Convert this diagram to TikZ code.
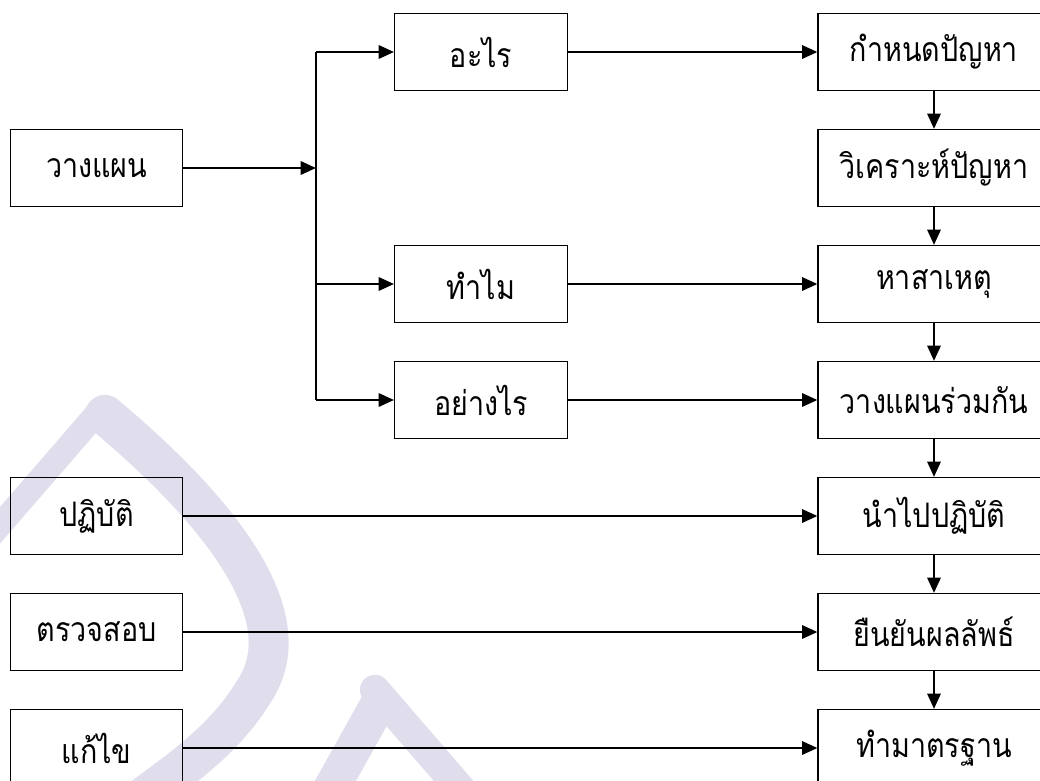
\documentclass[tikz,border=0pt]{standalone}
\usepackage{fontspec}
\newfontfamily\thaifont[Script=Thai, FakeStretch=0.85]{Loma}
\usepackage{tikz}
\usetikzlibrary{arrows, arrows.meta, positioning, calc}
\definecolor{wmark}{RGB}{224,221,237}
\tikzstyle{sbox} = [rectangle, minimum width=4.3cm, minimum height=1.925cm, inner sep=0pt, text centered, draw=black, line width=1pt, font=\thaifont\fontsize{24}{28}\selectfont]
\tikzstyle{mbox} = [sbox, minimum width=4.325cm]
\tikzstyle{rbox} = [sbox, minimum width=5.8cm]
\tikzstyle{arrow} = [line width=0.9pt, -{Triangle[length=0.38cm, width=0.34cm]}]
\tikzstyle{line} = [line width=0.9pt]

\begin{document}
\begin{tikzpicture}[node distance=2.9cm]
\useasboundingbox (0,0) rectangle (26,-19.5);
\clip (0,0) rectangle (26,-19.5);
% watermark in the background
\begin{scope}[x=0.025cm, y=-0.025cm, wmark, line cap=round]
\draw [line width=0.6cm] (100,410) -- (-30,560);
\draw [line width=1cm] (105,415) .. controls (230,520) and (300,620) .. (255,690) .. controls (225,740) and (180,770) .. (140,800);
\draw [line width=0.75cm] (375,690) -- (470,800);
\draw [line width=0.9cm] (378,705) -- (325,800);
\end{scope}
% right column
\node (r1) [rbox] at (23.35,-1.3) {กำหนดปัญหา};
\node (r2) [rbox, below of = r1] {วิเคราะห์ปัญหา};
\node (r3) [rbox, below of = r2] {หาสาเหตุ};
\node (r4) [rbox, below of = r3] {วางแผนร่วมกัน};
\node (r5) [rbox, below of = r4] {นำไปปฏิบัติ};
\node (r6) [rbox, below of = r5] {ยืนยันผลลัพธ์};
\node (r7) [rbox, below of = r6] {ทำมาตรฐาน};
% middle column
\node (m1) [mbox, left = 6.225cm of r1] {อะไร};
\node (m2) [mbox, left = 6.225cm of r3] {ทำไม};
\node (m3) [mbox, left = 6.225cm of r4] {อย่างไร};
% left column
\node (s1) [sbox, left = 15.85cm of r2] {วางแผน};
\node (s2) [sbox, left = 15.85cm of r5] {ปฏิบัติ};
\node (s3) [sbox, left = 15.85cm of r6] {ตรวจสอบ};
\node (s4) [sbox, left = 15.85cm of r7] {แก้ไข};
% fork
\coordinate (ftop) at ($(m1.west)+(-1.95,0)$);
\coordinate (fbot) at ($(m3.west)+(-1.95,0)$);
\draw [line] (ftop) -- (fbot);
\draw [arrow] (s1) -- (s1 -| ftop);
\draw [arrow] (ftop) -- (m1);
\draw [arrow] (ftop |- m2) -- (m2);
\draw [arrow] (fbot) -- (m3);
% across
\draw [arrow] (m1) -- (r1);
\draw [arrow] (m2) -- (r3);
\draw [arrow] (m3) -- (r4);
\draw [arrow] (s2) -- (r5);
\draw [arrow] (s3) -- (r6);
\draw [arrow] (s4) -- (r7);
% down
\foreach \a/\b in {r1/r2, r2/r3, r3/r4, r4/r5, r5/r6, r6/r7}
  \draw [arrow] (\a) -- (\b);
\end{tikzpicture}
\end{document}
